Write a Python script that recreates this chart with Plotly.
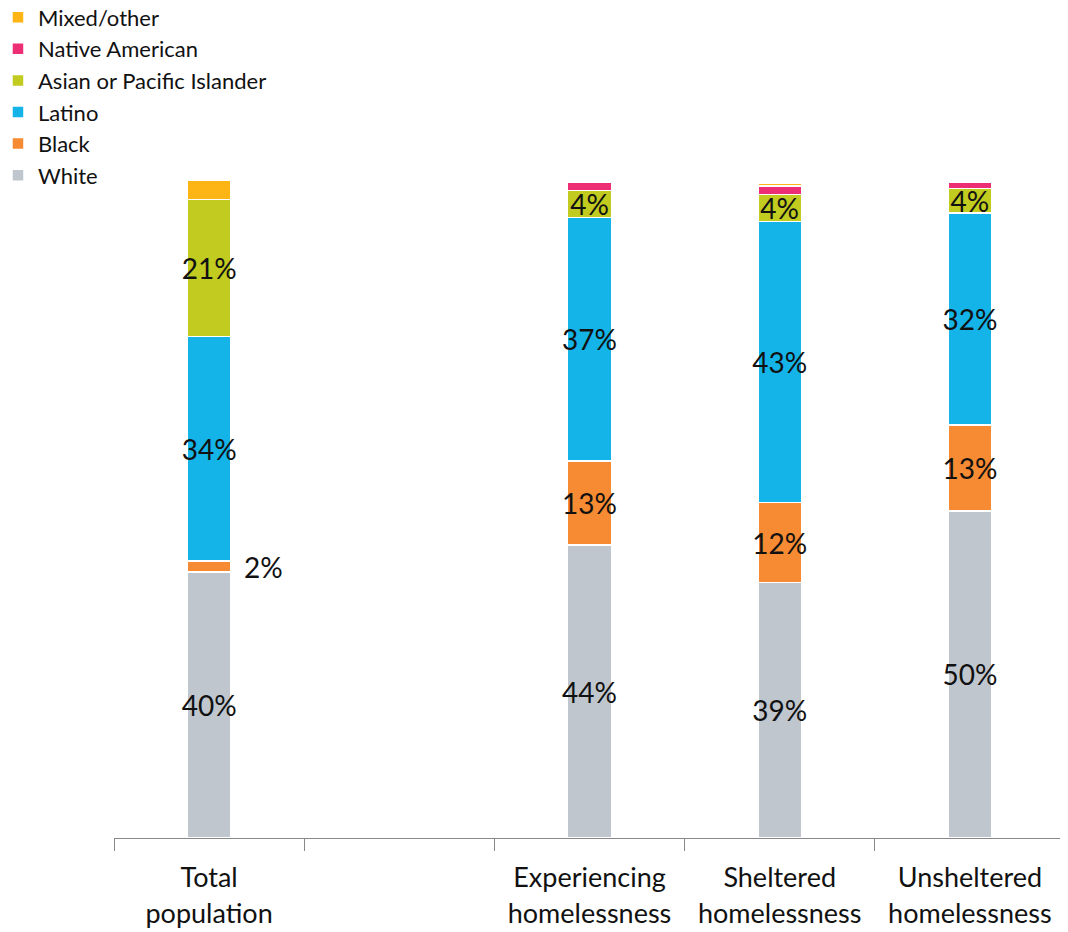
import plotly.graph_objects as go

categories = ["Total population", " ", "Experiencing homelessness", "Sheltered homelessness", "Unsheltered homelessness"]
tick_labels = ["Total<br>population", "", "Experiencing<br>homelessness", "Sheltered<br>homelessness", "Unsheltered<br>homelessness"]

white = [40.4, None, 44.5, 38.8, 49.7]
black = [1.7, None, 12.8, 12.2, 13.1]
latino = [34.1, None, 37.0, 42.7, 32.2]
asian = [20.8, None, 4.1, 4.1, 3.7]
native = [0.0, None, 1.2, 1.3, 0.9]
mixed = [3.0, None, 0.0, 0.4, 0.0]

white_text = ["40%", "", "44%", "39%", "50%"]
black_text = ["", "", "13%", "12%", "13%"]
latino_text = ["34%", "", "37%", "43%", "32%"]
asian_text = ["21%", "", "4%", "4%", "4%"]

series = [
    ("White", white, white_text, "#BFC6CE"),
    ("Black", black, black_text, "#F68B33"),
    ("Latino", latino, latino_text, "#14B3E8"),
    ("Asian or Pacific Islander", asian, asian_text, "#C1CB20"),
    ("Native American", native, None, "#EE2E74"),
    ("Mixed/other", mixed, None, "#FDB515"),
]

FONT = "Lato"
fig = go.Figure()
for name, vals, txt, col in series:
    fig.add_trace(go.Bar(
        name=name, x=categories, y=vals,
        text=txt, textposition="inside" if txt else "none",
        insidetextanchor="middle", textangle=0, constraintext="none",
        textfont=dict(family=FONT, size=28, color="#111111"),
        marker=dict(color=col, line=dict(color="white", width=1.5)),
        width=0.23, hoverinfo="skip",
    ))

fig.add_annotation(x=categories[0], y=white[0] + black[0] / 2, text="2%",
                   showarrow=False, xanchor="left", xshift=33,
                   font=dict(family=FONT, size=28, color="#111111"))

fig.update_layout(
    barmode="stack",
    width=1068, height=932,
    margin=dict(l=106, r=11, t=172, b=102, autoexpand=False),
    plot_bgcolor="white", paper_bgcolor="white",
    font=dict(family=FONT, color="#111111"),
    uniformtext=dict(mode="show", minsize=28),
    legend=dict(xref="paper", yref="paper", x=-0.122, y=1.279,
                xanchor="left", yanchor="top", traceorder="reversed",
                font=dict(family=FONT, size=22), itemwidth=30,
                tracegroupgap=0, bgcolor="rgba(0,0,0,0)"),
    showlegend=True,
)
fig.update_xaxes(type="category", categoryorder="array", categoryarray=categories,
                 tickmode="array", tickvals=categories, ticktext=tick_labels,
                 tickson="boundaries", ticks="outside", ticklen=12, tickcolor="#888888",
                 showline=True, linecolor="#888888", linewidth=1, tickangle=0,
                 automargin=False, ticklabelstandoff=16,
                 tickfont=dict(family=FONT, size=27, color="#111111"),
                 range=[-0.5, 4.5], showgrid=False)
fig.update_yaxes(range=[0, 100], visible=False, showgrid=False, automargin=False)

fig.write_html("out.html")
